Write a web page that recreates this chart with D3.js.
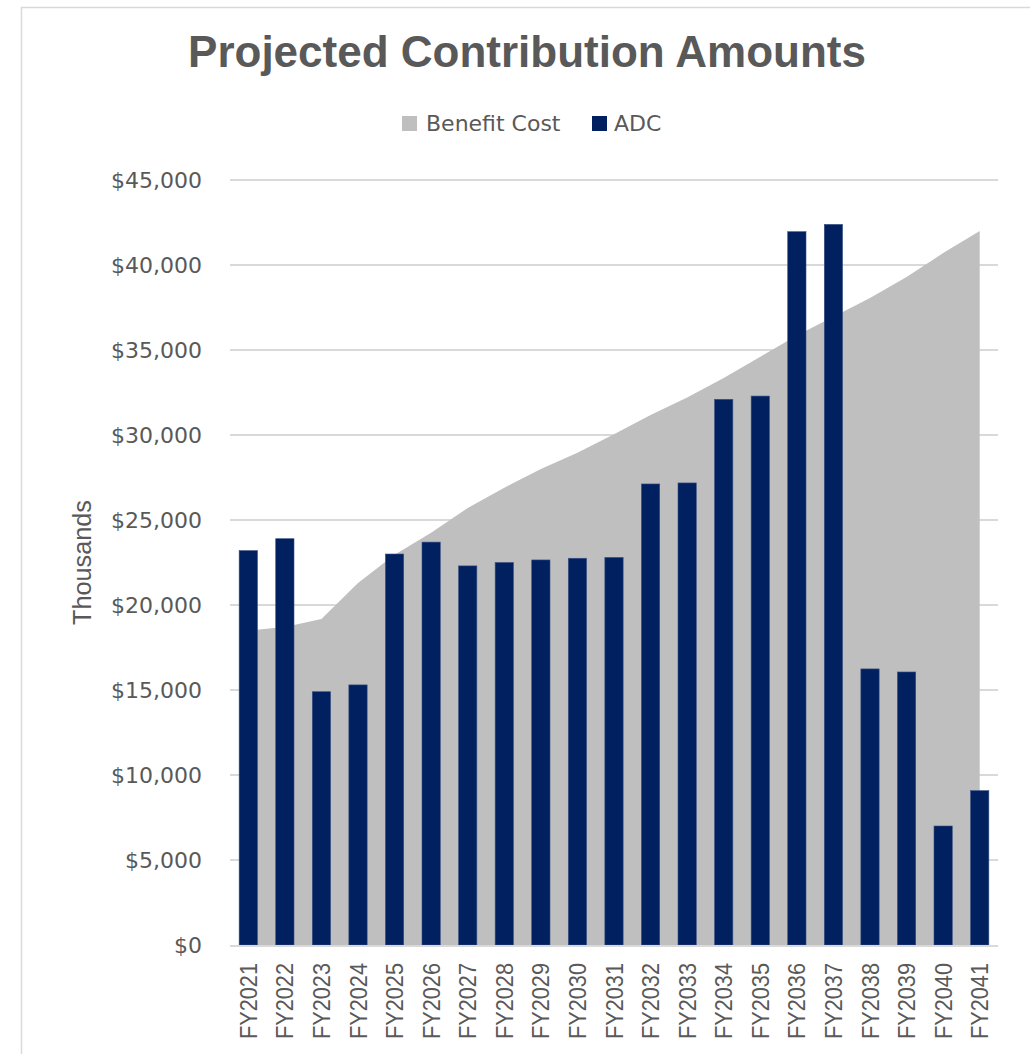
<!DOCTYPE html>
<html>
<head>
<meta charset="utf-8">
<script src="https://cdn.jsdelivr.net/npm/d3@7/dist/d3.min.js"></script>
<style>
  html, body { margin: 0; padding: 0; background: #ffffff; }
  svg { display: block; }
</style>
</head>
<body>
<script>
// ---- Data ----
const categories = ["FY2021","FY2022","FY2023","FY2024","FY2025","FY2026","FY2027","FY2028","FY2029","FY2030","FY2031","FY2032","FY2033","FY2034","FY2035","FY2036","FY2037","FY2038","FY2039","FY2040","FY2041"];
const benefitCost = [18500, 18700, 19180, 21300, 22950, 24250, 25700, 26900, 28000, 28950, 30050, 31180, 32200, 33350, 34600, 35850, 36950, 38060, 39300, 40700, 42000];
const adc = [23200, 23900, 14900, 15300, 23000, 23700, 22300, 22500, 22650, 22750, 22800, 27120, 27180, 32100, 32290, 41960, 42390, 16240, 16060, 7000, 9080];
const yTicks = [0, 5000, 10000, 15000, 20000, 25000, 30000, 35000, 40000, 45000];
const seriesNames = ["Benefit Cost", "ADC"];
const titleText = "Projected Contribution Amounts";
const yAxisTitle = "Thousands";

// ---- Layout ----
const W = 1030, H = 1054;
const plot = { left: 230, right: 998, top: 180, bottom: 945 };
const textColor = "#595959";
const gridColor = "#d9d9d9";
const areaColor = "#bfbfbf";
const barColor = "#002060";

const svg = d3.select("body").append("svg").attr("width", W).attr("height", H);

// chart frame
svg.append("rect")
  .attr("x", 21.5).attr("y", 7.5).attr("width", 1100).attr("height", 1100)
  .attr("fill", "#ffffff").attr("stroke", gridColor).attr("stroke-width", 1.5);

const x = d3.scaleBand().domain(categories).range([plot.left, plot.right])
  .paddingInner(0.5).paddingOuter(0.25);
const y = d3.scaleLinear().domain([0, 45000]).range([plot.bottom, plot.top]);

// gridlines
svg.append("g").selectAll("line").data(yTicks.filter(d => d > 0)).join("line")
  .attr("x1", plot.left).attr("x2", plot.right)
  .attr("y1", d => y(d)).attr("y2", d => y(d))
  .attr("stroke", gridColor).attr("stroke-width", 2);

// y tick labels via axis
const yAxis = d3.axisLeft(y).tickValues(yTicks).tickSize(0).tickPadding(0)
  .tickFormat(d => "$" + d3.format(",")(d));
const yg = svg.append("g").attr("transform", `translate(${plot.left - 28},0)`).call(yAxis);
yg.select(".domain").remove();
yg.selectAll("text")
  .attr("fill", textColor)
  .style("font-family", "'DejaVu Sans', sans-serif")
  .style("font-size", "22px")
  .attr("dy", "0.36em");

// area
const area = d3.area()
  .x((d, i) => x(categories[i]) + x.bandwidth() / 2)
  .y0(y(0))
  .y1(d => y(d));
svg.append("path").datum(benefitCost)
  .attr("d", area).attr("fill", areaColor);

// bars
svg.append("g").selectAll("rect").data(adc).join("rect")
  .attr("x", (d, i) => x(categories[i]))
  .attr("width", x.bandwidth())
  .attr("y", d => y(d))
  .attr("height", d => y(0) - y(d))
  .attr("fill", barColor)
  .attr("stroke", "#3b5283").attr("stroke-width", 0.6);

// x axis line
svg.append("line")
  .attr("x1", plot.left).attr("x2", plot.right)
  .attr("y1", plot.bottom + 1).attr("y2", plot.bottom + 1)
  .attr("stroke", gridColor).attr("stroke-width", 2);

// x labels via axis
const xAxis = d3.axisBottom(x).tickSize(0).tickPadding(0);
const xg = svg.append("g").attr("transform", `translate(0,${plot.bottom})`).call(xAxis);
xg.select(".domain").remove();
xg.selectAll("text")
  .attr("fill", textColor)
  .style("font-family", "'Liberation Sans', Arial, sans-serif")
  .style("font-size", "24px")
  .attr("text-anchor", "end")
  .attr("transform", "translate(0,18) rotate(-90)")
  .attr("x", 0).attr("y", 0).attr("dy", "0.36em")
  .attr("textLength", 76).attr("lengthAdjust", "spacingAndGlyphs");

// y axis title
svg.append("text")
  .attr("transform", `translate(91,${(plot.top + plot.bottom) / 2}) rotate(-90)`)
  .attr("text-anchor", "middle")
  .attr("fill", textColor)
  .style("font-family", "'Liberation Sans', Arial, sans-serif")
  .style("font-size", "25px")
  .attr("textLength", 125).attr("lengthAdjust", "spacingAndGlyphs")
  .text(yAxisTitle);

// title
svg.append("text")
  .attr("x", 527).attr("y", 67)
  .attr("text-anchor", "middle")
  .attr("fill", textColor)
  .style("font-family", "'Liberation Sans', Arial, sans-serif")
  .style("font-size", "44px").style("font-weight", "bold")
  .text(titleText);

// legend
const legendItems = [
  { name: seriesNames[0], color: areaColor, sx: 402, tx: 426 },
  { name: seriesNames[1], color: barColor, sx: 592, tx: 614 }
];
const lg = svg.append("g");
legendItems.forEach(it => {
  lg.append("rect").attr("x", it.sx).attr("y", 116).attr("width", 15).attr("height", 15).attr("fill", it.color);
  lg.append("text").attr("x", it.tx).attr("y", 131)
    .attr("fill", textColor)
    .style("font-family", "'DejaVu Sans', sans-serif")
    .style("font-size", "22px")
    .text(it.name);
});
</script>
</body>
</html>
